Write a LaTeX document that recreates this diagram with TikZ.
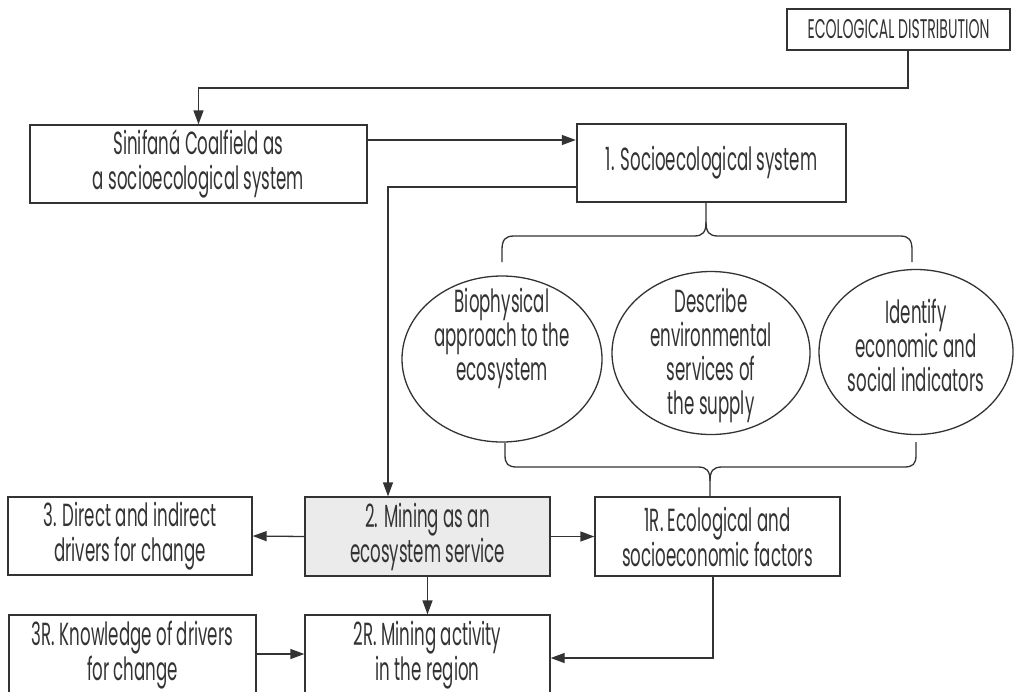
\documentclass[tikz,border=0pt]{standalone}
\usepackage{fontspec}
\setmainfont{Poppins}[FakeStretch=0.52]
\usetikzlibrary{arrows.meta,shapes.geometric}
\definecolor{ink}{HTML}{333333}
\definecolor{shade}{HTML}{EBEBEB}

\begin{document}
\begin{tikzpicture}[x=1pt,y=-1pt,
  font=\fontsize{32}{35}\selectfont, text=ink,
  box/.style={draw=ink, line width=1.3pt, rectangle, align=center, inner sep=0pt},
  ell/.style={draw=ink, line width=1.3pt, ellipse, inner sep=0pt},
  etext/.style={align=center, font=\fontsize{32}{34}\selectfont},
  conn/.style={draw=ink, line width=1.3pt},
  arr/.style={conn, -{Triangle[length=14pt,width=10pt]}}]

\useasboundingbox (0,0) rectangle (1016,691);
\clip (0,0) rectangle (1016,691);

% boxes
\node[box, minimum width=223pt, minimum height=41pt, font=\fontsize{27}{30}\selectfont] (ecol) at (898.5,29.5) {ECOLOGICAL DISTRIBUTION};
\node[box, minimum width=337pt, minimum height=78pt] (sin) at (198.5,164) {Sinifaná Coalfield as\\a socioecological system};
\node[box, line width=2.4pt, minimum width=269pt, minimum height=78pt] (soc) at (711.5,163) {1. Socioecological system};

% ellipses and their texts
\node[ell, minimum width=200pt, minimum height=166pt] (bio) at (502,359) {};
\node[ell, minimum width=198pt, minimum height=163pt] (desc) at (711,353) {};
\node[ell, minimum width=194pt, minimum height=165pt] (ident) at (916,352) {};
\node[etext] (biot) at (502,338) {Biophysical\\approach to the\\ecosystem};
\node[etext] (desct) at (711,355) {Describe\\environmental\\services of\\the supply};
\node[etext] (identt) at (916,345) {Identify\\economic and\\social indicators};

\node[box, minimum width=245pt, minimum height=79pt] (oneR) at (717.5,536.5) {1R. Ecological and\\socioeconomic factors};
\node[box, fill=shade, minimum width=245pt, minimum height=79pt] (mine) at (427.5,536.5) {2. Mining as an\\ecosystem service};
\node[box, minimum width=244pt, minimum height=78pt] (three) at (130,536) {3. Direct and indirect\\drivers for change};
\node[box, minimum width=247pt, minimum height=80pt] (threeR) at (132.5,655) {3R. Knowledge of drivers\\for change};
\node[box, minimum width=245pt, minimum height=80pt] (twoR) at (427.5,655) {2R. Mining activity\\in the region};

% connectors
\coordinate (e1) at (908,88);
\draw[arr] (ecol.south -| e1) -- (e1) -| (sin.north);
\draw[arr] (sin.east |- 0,140) -- (soc.west |- 0,140);
\draw[arr] (soc.west |- 0,187) -| (mine.north -| 388,0);

% upper brace
\coordinate (tb) at (706,222);
\draw[conn] (soc.south -| tb) -- (tb) .. controls (706,232) and (703,236) .. (694,236) -- (514,236) .. controls (505,236) and (502,240) .. (502,250) -- (502,262);
\draw[conn] (tb) .. controls (706,232) and (709,236) .. (718,236) -- (900,236) .. controls (909,236) and (912,240) .. (912,250) -- (912,262);

% lower brace
\coordinate (bb) at (710,481);
\draw[conn] (505,443) -- (505,455) .. controls (505,464) and (508,467) .. (517,467) -- (698,467) .. controls (707,467) and (710,471) .. (bb) -- (oneR.north -| bb);
\draw[conn] (bb) .. controls (710,471) and (713,467) .. (722,467) -- (904,467) .. controls (913,467) and (916,464) .. (916,455) -- (916,442);

\draw[arr] (mine.west) -- (three.east);
\draw[arr] (mine.east) -- (oneR.west);
\draw[arr] (mine.south) -- (twoR.north);
\draw[arr] (threeR.east |- 0,654) -- (twoR.west |- 0,654);
\draw[arr] (oneR.south -| 713,0) |- (twoR.east |- 0,658);
\end{tikzpicture}
\end{document}
